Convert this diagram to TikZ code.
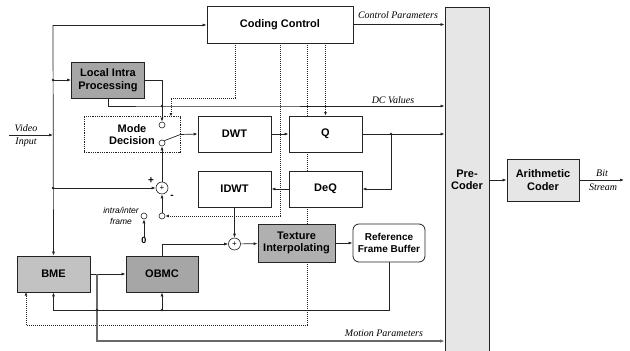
\documentclass[tikz,border=0pt]{standalone}
\usepackage{fontspec}
\setmainfont{Liberation Serif}
\setsansfont{Liberation Sans}
\definecolor{cdline}{RGB}{35,35,35}
\definecolor{cdgray}{RGB}{166,166,166}
\definecolor{cdsilver}{RGB}{194,194,194}
\definecolor{cdmid}{RGB}{176,176,176}
\definecolor{cdlight}{RGB}{230,230,230}
\definecolor{cdmotion}{RGB}{105,105,105}
\usetikzlibrary{arrows.meta,positioning,calc}
\tikzset{
  blk/.style={draw=cdline,line width=0.8pt,fill=white,align=center,inner sep=0pt,
    font=\sffamily\bfseries\fontsize{11}{12.5}\selectfont},
  term/.style={circle,draw=cdline,line width=0.6pt,fill=white,inner sep=0pt,minimum size=6pt},
  sumnode/.style={circle,draw=cdline,line width=0.6pt,fill=white,inner sep=0pt,minimum size=12pt,
    font=\sffamily\fontsize{8}{8}\selectfont},
  sign/.style={inner sep=0pt,font=\sffamily\bfseries\fontsize{10}{10}\selectfont},
  lbl/.style={inner sep=0pt,font=\rmfamily\itshape\fontsize{10}{11}\selectfont},
  wire/.style={draw=cdline,line width=0.7pt},
  arr/.style={wire,-{Latex[length=4pt,width=3pt]}},
  motion/.style={draw=cdmotion,line width=1.3pt,-{Latex[length=4.5pt,width=3.5pt]}},
  ctrl/.style={draw=cdline,line width=0.7pt,dash pattern=on 0.8pt off 1.2pt},
  carr/.style={ctrl,-{Latex[length=3.5pt,width=2.8pt]}},
  jdot/.style={circle,fill=cdline,inner sep=0pt,minimum size=2.6pt}
}
\begin{document}
\begin{tikzpicture}[x=1pt,y=-1pt]
  \useasboundingbox (0,0) rectangle (630,351);
  % blocks
  \node[blk,minimum width=146pt,minimum height=37pt] (cc) at (280,24.5) {Coding Control};
  \node[blk,fill=cdlight,minimum width=44pt,minimum height=346pt] (pre) at (467,180) {Pre-\\Coder};
  \node[blk,fill=cdlight,minimum width=72pt,minimum height=42pt] (ac) at (543,180) {Arithmetic\\Coder};
  \node[blk,fill=cdgray,minimum width=73pt,minimum height=36pt] (lip) at (108,80) {Local Intra\\Processing};
  \node[blk,dash pattern=on 0.8pt off 1pt,minimum width=96pt,minimum height=36pt] (md) at (132,134.5) {Mode\\Decision};
  \node[blk,minimum width=73pt,minimum height=36pt] (dwt) at (234.5,134) {DWT};
  \node[blk,minimum width=73pt,minimum height=36pt] (q) at (325.5,134) {Q};
  \node[blk,minimum width=73pt,minimum height=36pt] (idwt) at (234.5,189) {IDWT};
  \node[blk,minimum width=73pt,minimum height=36pt] (deq) at (325.5,189) {DeQ};
  \node[blk,fill=cdmid,minimum width=77pt,minimum height=38pt] (tex) at (296.5,243) {Texture\\Interpolating};
  \node[blk,rounded corners=6pt,minimum width=72pt,minimum height=38pt,
    font=\sffamily\bfseries\fontsize{10}{12}\selectfont] (rfb) at (389,243) {Reference\\Frame Buffer};
  \node[blk,fill=cdsilver,minimum width=73pt,minimum height=36pt] (bme) at (53.5,274) {BME};
  \node[blk,fill=cdgray,minimum width=72pt,minimum height=36pt] (obmc) at (162,274) {OBMC};
  % switches and adders
  \node[term] (mt) at (162,125) {};
  \node[term] (mb) at (162,143) {};
  \node[sumnode] (s1) at (162,188) {+};
  \node[sign] (plus) at (151,181) {+};
  \node[sign] (minus) at (172,197) {-};
  \node[term] (ii) at (162,216) {};
  \node[term] (iz) at (144,216) {};
  \node[sign,font=\sffamily\bfseries\fontsize{9}{9}\selectfont] (zero) at (144,240) {0};
  \node[align=center,inner sep=0pt,font=\sffamily\itshape\fontsize{8.5}{10.5}\selectfont] (iil) at (121,216) {intra/inter\\frame};
  \node[sumnode] (s2) at (234.5,244) {+};
  % junctions
  \coordinate (tk) at (53,25);
  \coordinate (jl) at (53,80);
  \coordinate (jv) at (53,135);
  \coordinate (js) at (53,188);
  \coordinate (vin) at (9,135);
  \coordinate (jdc) at (162,106);
  \coordinate (jq) at (391,134);
  \coordinate (jb) at (162,310);
  \coordinate (jbl) at (53.5,310);
  \coordinate (jm) at (97,274);
  \coordinate (jmx) at (97,310);
  \coordinate (jmb) at (97,341);
  \coordinate (bout) at (624,180);
  % control lines
  \coordinate (c1) at (235,98);
  \coordinate (c1e) at (171,116.5);
  \coordinate (c2) at (280,216);
  \coordinate (c3) at (307,325);
  \coordinate (c3e) at (26,292);
  \draw[carr] (cc.south -| c1) -- (c1) -| (c1e);
  \draw[carr] (cc.south -| c2) -- (c2) -- (ii.east);
  \draw[ctrl] (cc.south -| c3) -- (q.north -| c3);
  \draw[ctrl] (q.south -| c3) -- (deq.north -| c3);
  \draw[ctrl] (deq.south -| c3) -- (tex.north -| c3);
  \draw[carr] (tex.south -| c3) -- (c3) -| (c3e);
  \draw[carr] (cc.south -| q.north) -- (q.north);
  % data lines
  \draw[arr] (vin) -- (jv);
  \draw[arr] (tk) -- (bme.north);
  \draw[arr] (tk) -- (tk -| cc.west);
  \draw[arr] (jl) -- (lip.west);
  \draw[arr] (js) -- (s1.west);
  \draw[arr] (lip.east) -| (mt.north);
  \draw[arr] (lip.south) |- (jdc) -- (jdc -| pre.west);
  \draw[arr] (cc.east) -- (cc.east -| pre.west);
  \draw[wire] (mb.north east) -- (md.east);
  \draw[arr] (md.east) -- (dwt.west);
  \draw[arr] (dwt) -- (q);
  \draw[arr] (q.east) -- (q.east -| pre.west);
  \draw[arr] (jq) |- (deq.east);
  \draw[arr] (deq) -- (idwt);
  \draw[arr] (idwt.south) -- (s2.north);
  \draw[arr] (s1.north) -- (mb.south);
  \draw[arr] (ii.north) -- (s1.south);
  \draw[arr] (zero.north) -- (iz.south);
  \draw[arr] (obmc.north) |- (s2.west);
  \draw[arr] (s2) -- (tex);
  \draw[arr] (tex) -- (rfb);
  \draw[arr] (rfb.south) |- (jbl) -- (bme.south);
  \draw[arr] (jb) -- (obmc.south);
  \draw[arr] (bme) -- (obmc);
  \draw[motion] (jm) -- (jmb) -- (jmb -| pre.west);
  \draw[arr] (pre.east |- ac.west) -- (ac.west);
  \draw[arr] (ac.east) -- (bout);
  \foreach \j in {jl,js,jdc,jq,jb,jmx}
    \node[jdot] at (\j) {};
  % labels
  \node[lbl] (vidl) at (26,128) {Video};
  \node[lbl] (inpl) at (26,142) {Input};
  \node[lbl] (cpl) at (398,15) {Control Parameters};
  \node[lbl] (dcl) at (393,100) {DC Values};
  \node[lbl] (mpl) at (384,333) {Motion Parameters};
  \node[lbl] (bitl) at (602,173) {Bit};
  \node[lbl] (strl) at (603,187) {Stream};
\end{tikzpicture}
\end{document}
